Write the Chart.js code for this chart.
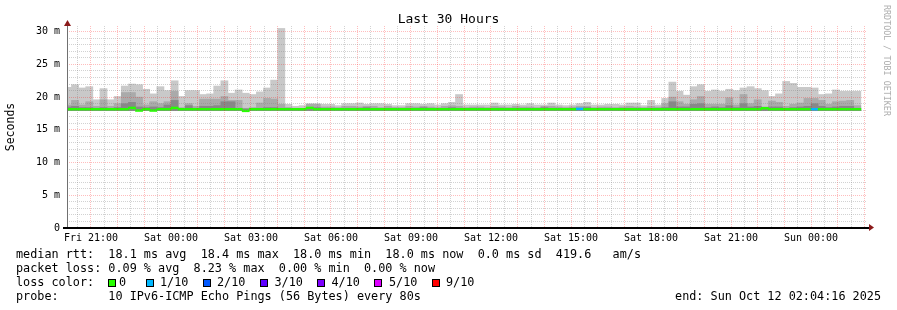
<!DOCTYPE html>
<html><head><meta charset="utf-8">
<script src="https://cdn.jsdelivr.net/npm/chart.js@4/dist/chart.umd.min.js"></script>
<style>
html,body{margin:0;padding:0;background:#fff;}
#wrap{position:relative;width:897px;height:310px;overflow:hidden;font-family:'DejaVu Sans Mono',monospace;color:#000;}
canvas{position:absolute;left:0;top:0;}
.t{position:absolute;white-space:pre;font-size:11.8px;line-height:14px;}
.sw{position:absolute;width:6px;height:6px;border:1px solid #000;top:279px;}
</style></head>
<body><div id="wrap"><canvas id="c" width="897" height="310"></canvas>
<div class="t" style="left:0;width:897px;text-align:center;top:11px;font-size:13px;line-height:15px;">Last 30 Hours</div>
<div class="t" style="left:892px;top:5px;font-size:8.4px;line-height:10px;color:#adadad;transform-origin:0 0;transform:rotate(90deg);">RRDTOOL / TOBI OETIKER</div>
<div class="t" style="left:16px;top:247px;">median rtt:  18.1 ms avg  18.4 ms max  18.0 ms min  18.0 ms now  0.0 ms sd  419.6   am/s</div>
<div class="t" style="left:16px;top:261px;">packet loss: 0.09 % avg  8.23 % max  0.00 % min  0.00 % now</div>
<div class="t" style="left:16px;top:275px;">loss color:</div>
<div id="lossLegend"></div>
<div class="t" style="left:16px;top:289px;">probe:       10 IPv6-ICMP Echo Pings (56 Bytes) every 80s</div>
<div class="t" style="right:16px;top:289px;">end: Sun Oct 12 02:04:16 2025</div>
</div>
<script>
// ---- data (ms), one value per 16-minute step ----
const maxRtt = [21.5,21.9,21.4,21.6,19.6,21.3,19.6,20.1,21.7,22.0,
 21.9,21.2,20.5,21.6,21.0,22.5,20.1,21.0,21.0,20.4,
 20.5,21.7,22.5,20.6,21.1,20.6,20.4,20.8,21.4,22.6,
 30.5,18.9,18.6,18.7,19.0,19.0,18.9,18.9,18.7,19.0,
 19.0,19.1,18.9,19.0,19.0,18.9,18.7,18.7,19.0,19.0,
 18.9,19.0,18.8,19.0,19.2,20.4,18.8,18.8,18.8,18.8,
 19.1,18.8,18.8,18.9,18.8,19.0,18.8,18.8,19.1,18.8,
 18.7,18.8,19.0,19.2,18.8,18.8,18.9,18.9,18.8,19.1,
 19.1,18.7,19.5,18.8,19.8,22.3,20.9,20.3,21.6,21.9,
 20.9,21.1,20.9,21.2,21.0,21.4,21.6,21.3,21.0,20.1,
 20.5,22.4,22.1,21.5,21.5,21.4,20.4,20.5,21.1,20.9,
 20.9,20.9];
const upperRtt = [18.8,19.5,18.8,19.3,18.6,19.6,18.6,19.0,20.7,20.7,
 20.0,18.8,19.3,19.0,19.3,20.9,18.4,19.0,18.6,19.7,
 19.7,19.7,20.1,19.5,19.5,18.3,18.4,19.1,19.8,19.7,
 18.9,18.4,18.3,18.3,18.9,18.9,18.5,18.5,18.4,18.6,
 18.6,18.5,18.6,18.6,18.4,18.6,18.4,18.4,18.6,18.5,
 18.6,18.5,18.4,18.6,18.7,18.6,18.4,18.5,18.5,18.4,
 18.6,18.5,18.4,18.6,18.5,18.5,18.4,18.6,18.6,18.5,
 18.4,18.5,18.6,18.6,18.4,18.5,18.5,18.4,18.5,18.6,
 18.5,18.4,18.6,18.5,19.0,20.0,19.3,18.9,19.6,20.1,
 18.9,18.9,18.9,19.9,18.8,20.4,19.0,19.6,18.5,19.4,
 19.2,18.6,18.9,19.1,19.8,19.8,19.5,18.9,19.3,19.4,
 19.5,18.7];
const coreRtt = [18.5,18.6,18.4,18.4,18.3,18.4,18.3,18.4,19.0,19.2,
 18.5,18.4,18.5,18.4,18.8,19.5,18.2,18.7,18.3,18.6,
 18.6,18.7,19.3,19.3,18.3,18.2,18.2,18.3,18.4,18.4,
 18.3,18.3,18.2,18.2,18.4,18.4,18.3,18.3,18.2,18.3,
 18.3,18.3,18.4,18.3,18.2,18.3,18.3,18.2,18.3,18.3,
 18.4,18.3,18.2,18.3,18.4,18.3,18.2,18.3,18.3,18.2,
 18.3,18.3,18.2,18.3,18.3,18.3,18.2,18.4,18.3,18.3,
 18.2,18.3,18.3,18.4,18.2,18.3,18.3,18.2,18.3,18.3,
 18.3,18.2,18.3,18.3,18.4,19.3,18.5,18.5,18.9,19.0,
 18.4,18.5,18.4,18.7,18.4,19.0,18.5,18.6,18.3,18.5,
 18.5,18.3,18.4,18.5,18.6,19.0,18.6,18.4,18.5,18.6,
 18.6,18.3];
const medianRtt = [18.15,18.15,18.15,18.15,18.15,18.15,18.15,18.15,18.15,18.35,
 17.95,18.15,17.95,18.15,18.15,18.35,18.15,18.15,18.15,18.15,
 18.15,18.15,18.15,18.15,18.15,17.9,18.15,18.15,18.15,18.15,
 18.15,18.15,18.15,18.15,18.35,18.15,18.15,18.15,18.15,18.15,
 18.15,18.15,18.15,18.15,18.15,18.15,18.15,18.15,18.15,18.15,
 18.15,18.15,18.15,18.15,18.15,18.15,18.15,18.15,18.15,18.15,
 18.15,18.15,18.15,18.15,18.15,18.15,18.15,18.15,18.15,18.15,
 18.15,18.15,18.2,18.15,18.15,18.15,18.15,18.15,18.15,18.15,
 18.15,18.15,18.15,18.15,18.15,18.15,18.15,18.15,18.15,18.15,
 18.15,18.15,18.15,18.15,18.15,18.15,18.15,18.15,18.3,18.15,
 18.15,18.15,18.15,18.15,18.15,18.15,18.15,18.15,18.15,18.15,
 18.15,18.15];
const lossTenths = [0,0,0,0,0,0,0,0,0,0, 0,0,0,0,0,0,0,0,0,0, 0,0,0,0,0,0,0,0,0,0,
 0,0,0,0,0,0,0,0,0,0, 0,0,0,0,0,0,0,0,0,0, 0,0,0,0,0,0,0,0,0,0,
 0,0,0,0,0,0,0,0,0,0, 0,0,1,0,0,0,0,0,0,0, 0,0,0,0,0,0,0,0,0,0,
 0,0,0,0,0,0,0,0,0,0, 0,0,0,0,0,1,0,0,0,0, 0,0];
const minRtt = 18.0;
const lossLabels = ['0','1/10','2/10','3/10','4/10','5/10','9/10'];
const lossColors = ['#26ff00','#00b8ff','#0059ff','#5e00ff','#7e00ff','#dd00ff','#ff0000'];
const dayNames = ['Fri','Sat','Sun'];
const yTickLabels = {0:'0',5:'5 m',10:'10 m',15:'15 m',20:'20 m',25:'25 m',30:'30 m'};

// ---- time axis (hours since Fri 00:00) ----
const T_START = 20.1, T_END = 50.1;
const STEP = 16/60, FIRST_EDGE = 20.26875;
const times = maxRtt.map((_, i) => FIRST_EDGE + (i - 0.5) * STEP);

// legend swatches
const swLeft = [108,146,203,260,317,374,432];
const txLeft = [119,160,217,274.5,331.5,389,446];
const ll = document.getElementById('lossLegend');
lossLabels.forEach((lab, i) => {
  const s = document.createElement('div'); s.className='sw'; s.style.left=swLeft[i]+'px'; s.style.background=lossColors[i]; ll.appendChild(s);
  const t = document.createElement('div'); t.className='t'; t.style.left=txLeft[i]+'px'; t.style.top='275px'; t.textContent=lab; ll.appendChild(t);
});

const band = (hi) => times.map((t, i) => ({x: t, y: [minRtt - 0.05, hi[i]]}));
const medianData = times.map((t, i) => ({x: t, y: [medianRtt[i] - 0.14, medianRtt[i] + 0.14]}));

const RED = 'rgba(255,0,0,0.26)', GRAY = 'rgba(130,130,130,0.36)';

const axisPlugin = {
  id: 'axesArrows',
  afterDraw(chart) {
    const {ctx, chartArea: a} = chart;
    ctx.save();
    ctx.fillStyle = '#707070';
    ctx.fillRect(a.left, a.top - 4, 1, a.bottom - a.top + 5);
    ctx.fillStyle = '#000';
    ctx.fillRect(a.left - 4, a.bottom - 1, a.right - a.left + 6, 2);
    ctx.fillStyle = '#8b1a1a';
    ctx.beginPath(); ctx.moveTo(a.left - 3, a.top); ctx.lineTo(a.left + 4, a.top); ctx.lineTo(a.left + 0.5, a.top - 6); ctx.closePath(); ctx.fill();
    ctx.beginPath(); ctx.moveTo(a.right + 2, a.bottom - 4); ctx.lineTo(a.right + 2, a.bottom + 3); ctx.lineTo(a.right + 7, a.bottom - 0.5); ctx.closePath(); ctx.fill();
    ctx.restore();
  }
};

new Chart(document.getElementById('c'), {
  type: 'bar',
  data: { datasets: [
    {label: 'median', data: medianData, backgroundColor: lossTenths.map(l => lossColors[l]), grouped: false, barPercentage: 1, categoryPercentage: 1},
    {label: 'core', data: band(coreRtt), backgroundColor: '#888888', grouped: false, barPercentage: 1, categoryPercentage: 1},
    {label: 'upper', data: band(upperRtt), backgroundColor: '#aaaaaa', grouped: false, barPercentage: 1, categoryPercentage: 1},
    {label: 'max', data: band(maxRtt), backgroundColor: '#c9c9c9', grouped: false, barPercentage: 1, categoryPercentage: 1}
  ]},
  options: {
    animation: false, responsive: false, maintainAspectRatio: false,
    layout: {padding: {left: 0, right: 30, top: 26, bottom: 0}},
    plugins: {legend: {display: false}, tooltip: {enabled: false}, title: {display: false}},
    scales: {
      x: {
        type: 'linear', min: T_START, max: T_END, offset: false,
        afterBuildTicks: s => { const tk = []; for (let v = 20.5; v <= 50.0; v += 0.5) tk.push({value: v}); s.ticks = tk; },
        afterFit: s => { s.height = 82; },
        grid: {offset: false, z: 1, drawTicks: false, lineWidth: 1,
          color: c => (c.tick && Number.isInteger(c.tick.value)) ? RED : GRAY},
        border: {display: false, dash: [1, 1]},
        ticks: {autoSkip: false, maxRotation: 0, minRotation: 0, padding: 4, color: '#000',
          font: {family: 'DejaVu Sans Mono', size: 10},
          callback: v => {
            if (!Number.isInteger(v) || v % 3 !== 0) return '';
            const d = Math.floor(v / 24), h = v % 24;
            return dayNames[d] + ' ' + String(h).padStart(2, '0') + ':00';
          }}
      },
      y: {
        min: 0, max: 30.87,
        afterFit: s => { s.width = 67; },
        grid: {z: 1, drawTicks: false, lineWidth: 1,
          color: c => (c.tick && c.tick.value % 5 === 0) ? RED : GRAY},
        border: {display: false, dash: [1, 1]},
        ticks: {stepSize: 1, includeBounds: false, autoSkip: false, padding: 7, color: '#000',
          font: {family: 'DejaVu Sans Mono', size: 10},
          callback: v => (v in yTickLabels) ? yTickLabels[v] : ''},
        title: {display: true, text: 'Seconds', color: '#000', padding: {top: 4, bottom: 4},
          font: {family: 'DejaVu Sans Mono', size: 11.5}}
      }
    }
  },
  plugins: [axisPlugin]
});
</script>
</body></html>
